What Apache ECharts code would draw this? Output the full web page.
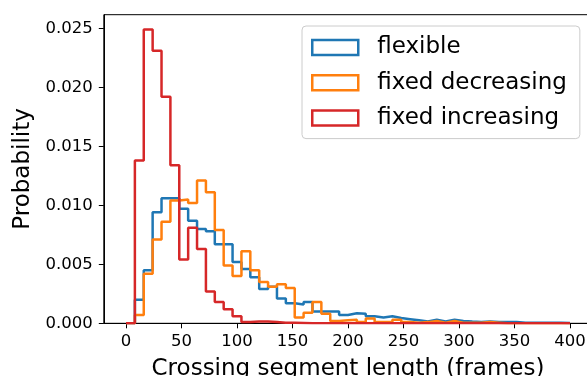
<!DOCTYPE html>
<html>
<head>
<meta charset="utf-8">
<script src="https://cdn.jsdelivr.net/npm/echarts@6/dist/echarts.min.js"></script>
<style>html,body{margin:0;padding:0;background:#fff;}#c{width:587px;height:376px;}</style>
</head>
<body>
<div id="c"></div>
<script>
// bin edges: 0, 8, 16, ..., 400 (50 bins)
const binStart = 0;
const binWidth = 8;
const seriesNames = ['flexible', 'fixed decreasing', 'fixed increasing'];
const flexible = [0, 0.0020, 0.0045, 0.0094, 0.0106, 0.0106, 0.0097, 0.0087, 0.0080, 0.0078,
  0.0067, 0.0067, 0.0052, 0.0046, 0.0039, 0.0029, 0.0031, 0.0021, 0.0017, 0.0016,
  0.0018, 0.0010, 0.0010, 0.0010, 0.0007, 0.00085, 0.0008, 0.0006, 0.0005, 0.0006,
  0.00045, 0.00035, 0.00025, 0.00015, 0.0003, 0.00015, 0.0003, 0.0002, 0.00015, 0.00012,
  0.00015, 0.0001, 0.0001, 0.0001, 0.00005, 0.00005, 0.00005, 0.00005, 0.00005, 0.00003];
const fixedDecreasing = [0, 0.0007, 0.0042, 0.0071, 0.0086, 0.0104, 0.0105, 0.0102, 0.0121, 0.0111,
  0.0079, 0.0049, 0.0040, 0.0061, 0.0045, 0.0035, 0.0031, 0.0033, 0.0030, 0.0005,
  0.0009, 0.0018, 0.0008, 0.0002, 0.00025, 0.0003, 0.0001, 0.0004, 0.0001, 0.0001,
  0.0003, 0.0001, 0.00005, 0.0001, 0.0002, 0.00005, 0.0002, 0.00005, 0.00005, 0.00005,
  0.0001, 0.00005, 0, 0, 0, 0, 0, 0, 0, 0];
const fixedIncreasing = [0, 0.0138, 0.0249, 0.0231, 0.0192, 0.0134, 0.0054, 0.0081, 0.0063, 0.0027,
  0.0018, 0.0012, 0.0006, 0.0001, 0.00015, 0.00015, 0.0001, 0.00005, 0.00005, 0.00003,
  0, 0, 0, 0, 0, 0, 0, 0, 0, 0,
  0, 0, 0, 0, 0, 0, 0, 0, 0, 0,
  0, 0, 0, 0, 0, 0, 0, 0, 0, 0];
const xTicks = [0, 50, 100, 150, 200, 250, 300, 350, 400];
const yTicks = [0, 0.005, 0.010, 0.015, 0.020, 0.025];
const colors = ['#1f77b4', '#ff7f0e', '#d62728'];

function stepData(vals) {
  const d = [[binStart, 0]];
  for (let i = 0; i < vals.length; i++) d.push([binStart + i * binWidth, vals[i]]);
  const end = binStart + vals.length * binWidth;
  d.push([end, 0]);
  return d;
}
const allVals = [flexible, fixedDecreasing, fixedIncreasing];
const font = 'DejaVu Sans';

const chart = echarts.init(document.getElementById('c'), null, {renderer: 'canvas'});
chart.setOption({
  animation: false,
  backgroundColor: '#fff',
  grid: {left: 103.8, top: 14.7, right: -5.2, bottom: 52.7, show: true, borderColor: '#000', borderWidth: 1, containLabel: false, outerBoundsMode: 'none'},
  legend: {
    left: 302, top: 26, orient: 'vertical',
    backgroundColor: '#fff', borderColor: '#cccccc', borderWidth: 1, borderRadius: 4,
    padding: [10, 13, 9, 9],
    itemWidth: 46, itemHeight: 15, itemGap: 12.3,
    textStyle: {fontFamily: font, fontSize: 23, color: '#000', lineHeight: 22, padding: [0, 0, 0, 14]},
    data: seriesNames.map((n, i) => ({name: n, icon: 'rect', itemStyle: {color: '#fff', borderColor: colors[i], borderWidth: 2.5}}))
  },
  xAxis: {
    type: 'value', min: -20, max: 420,
    name: 'Crossing segment length (frames)', nameLocation: 'middle', nameGap: 34,
    nameTextStyle: {fontFamily: font, fontSize: 23, color: '#000'},
    axisLine: {show: true, onZero: false, lineStyle: {color: '#000', width: 1}},
    axisTick: {show: true, inside: false, length: 5, lineStyle: {color: '#000'}, customValues: xTicks},
    axisLabel: {fontFamily: font, fontSize: 16.5, color: '#000', margin: 10, customValues: xTicks, formatter: v => String(v)},
    splitLine: {show: false}
  },
  yAxis: {
    type: 'value', min: 0, max: 0.02615,
    name: 'Probability', nameLocation: 'middle', nameGap: 66,
    nameTextStyle: {fontFamily: font, fontSize: 23, color: '#000'},
    axisLine: {show: true, onZero: false, lineStyle: {color: '#000', width: 1}},
    axisTick: {show: true, inside: false, length: 5, lineStyle: {color: '#000'}, customValues: yTicks},
    axisLabel: {fontFamily: font, fontSize: 16.5, color: '#000', margin: 11, customValues: yTicks, formatter: v => v.toFixed(3)},
    splitLine: {show: false}
  },
  series: seriesNames.map((n, i) => ({
    name: n, type: 'line', step: 'end', showSymbol: false, symbol: 'none',
    color: colors[i],
    lineStyle: {color: colors[i], width: 2.5},
    data: stepData(allVals[i]),
    z: 2 + i
  }))
});
</script>
</body>
</html>
